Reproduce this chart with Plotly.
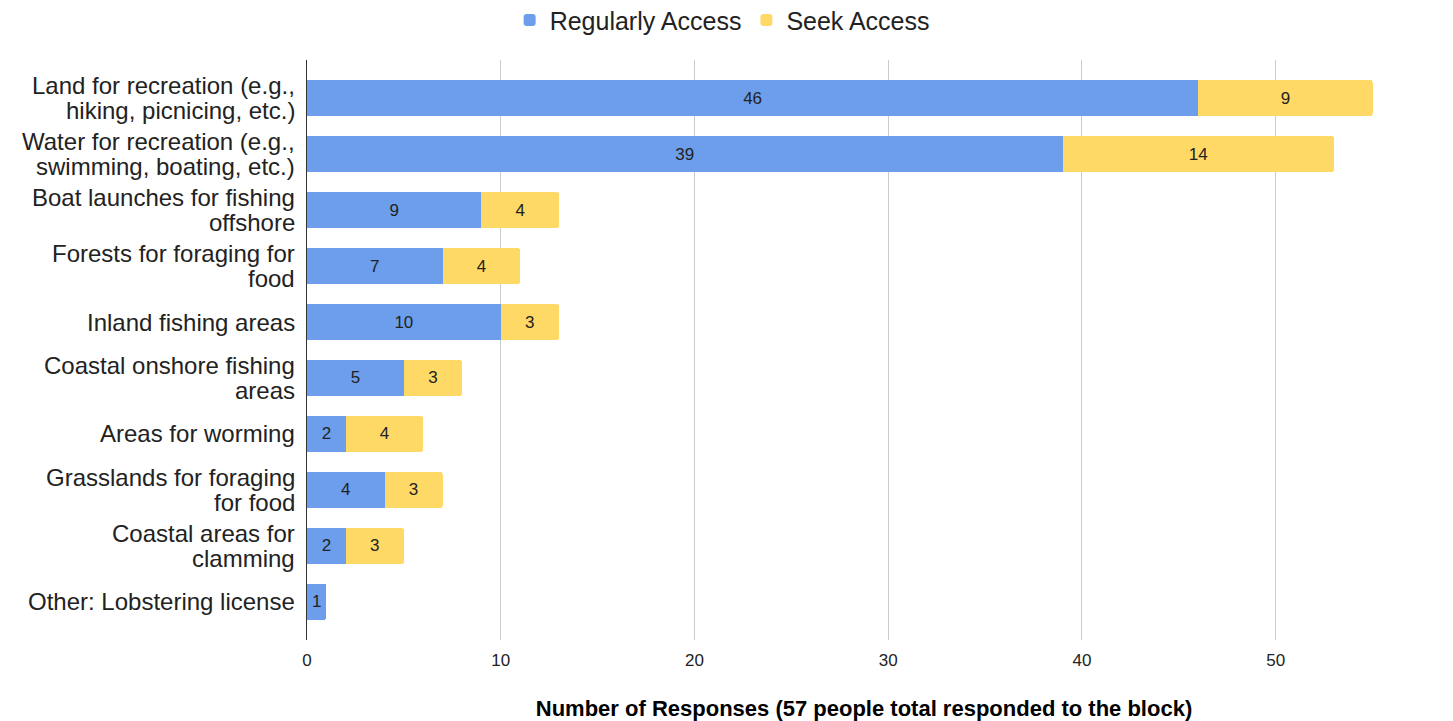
import plotly.graph_objects as go

# Category labels, one list entry per printed line
category_lines = [
    ["Land for recreation (e.g.,", "hiking, picnicing, etc.)"],
    ["Water for recreation (e.g.,", "swimming, boating, etc.)"],
    ["Boat launches for fishing", "offshore"],
    ["Forests for foraging for", "food"],
    ["Inland fishing areas"],
    ["Coastal onshore fishing", "areas"],
    ["Areas for worming"],
    ["Grasslands for foraging", "for food"],
    ["Coastal areas for", "clamming"],
    ["Other: Lobstering license"],
]
categories = [" ".join(lines) for lines in category_lines]
regularly_access = [46, 39, 9, 7, 10, 5, 2, 4, 2, 1]
seek_access = [9, 14, 4, 4, 3, 3, 4, 3, 3, None]
x_ticks = [0, 10, 20, 30, 40, 50]

FONT = "Liberation Sans, Arial, Helvetica, sans-serif"
LABEL_SIZE = 24
LINE_PITCH = 25

fig = go.Figure()
fig.add_trace(go.Bar(
    y=categories, x=regularly_access, orientation="h", name="Regularly Access",
    marker=dict(color="#6d9eeb", line=dict(width=0)),
    text=regularly_access, textposition="inside", insidetextanchor="middle",
    textfont=dict(size=17, color="#222222", family=FONT),
))
fig.add_trace(go.Bar(
    y=categories, x=seek_access, orientation="h", name="Seek Access",
    marker=dict(color="#ffd966", line=dict(width=0)),
    text=seek_access, textposition="inside", insidetextanchor="middle",
    textfont=dict(size=17, color="#222222", family=FONT),
))

# Multi-line category labels drawn with a tight line pitch
annotations = []
for cat, lines in zip(categories, category_lines):
    n = len(lines)
    for i, line in enumerate(lines):
        annotations.append(dict(
            x=0, xref="paper", xanchor="right", xshift=-11,
            y=cat, yref="y", yanchor="middle",
            yshift=((n - 1) / 2 - i) * LINE_PITCH,
            text=line, showarrow=False, borderpad=0,
            font=dict(size=LABEL_SIZE, color="#222222", family=FONT),
        ))

fig.update_layout(
    width=1453, height=721,
    barmode="stack", bargap=0.35, barcornerradius=3,
    paper_bgcolor="white", plot_bgcolor="white",
    margin=dict(l=307, r=32, t=60, b=81),
    font=dict(family=FONT, color="#222222"),
    uniformtext=dict(mode="show", minsize=17),
    annotations=annotations,
    legend=dict(
        orientation="h", x=0.497, xanchor="center", xref="container",
        y=0.972, yanchor="middle", yref="container",
        font=dict(size=25, color="#222222"),
        traceorder="normal",
    ),
    xaxis=dict(
        range=[0, 57.5], tickvals=x_ticks, showgrid=True, gridcolor="#cccccc",
        gridwidth=1, zeroline=False, tickfont=dict(size=17, color="#222222"),
        ticklabelstandoff=8, automargin=False,
        title=dict(
            text="<b>Number of Responses (57 people total responded to the block)</b>",
            font=dict(size=22, color="#000000"), standoff=34,
        ),
    ),
    yaxis=dict(
        range=[9.68, -0.68], showline=True, linecolor="#333333", linewidth=1,
        showgrid=False, showticklabels=False,
    ),
)

fig.write_html("out.html")
